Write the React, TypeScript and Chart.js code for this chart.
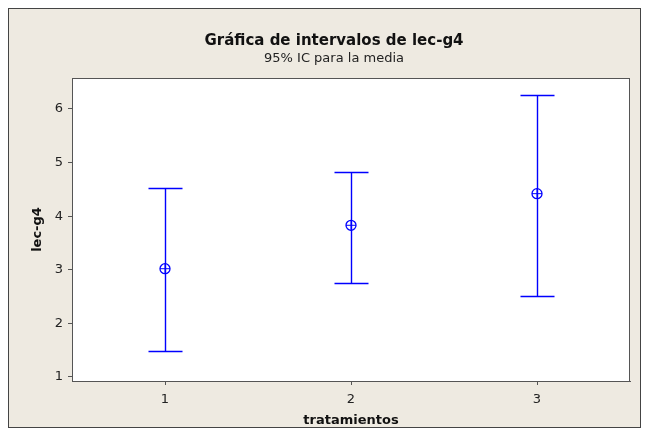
import React, { useEffect, useRef } from "react";
import { Chart, registerables } from "chart.js";
Chart.register(...registerables);

const categories = [1, 2, 3];
const xTickLabels = ["1", "2", "3"];
const means = [3.02, 3.83, 4.42];
const lowers = [1.49, 2.76, 2.52];
const uppers = [4.53, 4.83, 6.27];
const yTicks = [1, 2, 3, 4, 5, 6];
const titleText = "Gráfica de intervalos de lec-g4";
const subtitleText = "95% IC para la media";
const xTitle = "tratamientos";
const yTitle = "lec-g4";

const W = 633;
const H = 420;
const BG = "#EEEAE1";
const BLUE = "#0000FF";
const AXIS = "#555555";
const FONT = "'DejaVu Sans', Verdana, sans-serif";
const CAP_HALF = 17;

const framePlugin = {
  id: "frame",
  beforeDraw(chart: any) {
    const ctx = chart.ctx;
    const a = chart.chartArea;
    ctx.save();
    ctx.fillStyle = BG;
    ctx.fillRect(0, 0, chart.width, chart.height);
    ctx.strokeStyle = "#444444";
    ctx.lineWidth = 1;
    ctx.strokeRect(0.5, 0.5, chart.width - 1, chart.height - 1);
    ctx.fillStyle = "#FFFFFF";
    ctx.fillRect(a.left, a.top, a.right - a.left, a.bottom - a.top);
    ctx.restore();
  },
  beforeDatasetsDraw(chart: any) {
    const ctx = chart.ctx;
    const xs = chart.scales.x;
    const ys = chart.scales.y;
    ctx.save();
    ctx.strokeStyle = BLUE;
    ctx.lineWidth = 1.4;
    categories.forEach((c, i) => {
      const x = Math.round(xs.getPixelForValue(c)) + 0.5;
      const yt = Math.round(ys.getPixelForValue(uppers[i])) + 0.5;
      const yb = Math.round(ys.getPixelForValue(lowers[i])) + 0.5;
      ctx.beginPath();
      ctx.moveTo(x, yt);
      ctx.lineTo(x, yb);
      ctx.moveTo(x - CAP_HALF, yt);
      ctx.lineTo(x + CAP_HALF, yt);
      ctx.moveTo(x - CAP_HALF, yb);
      ctx.lineTo(x + CAP_HALF, yb);
      ctx.stroke();
    });
    ctx.restore();
  },
  afterDraw(chart: any) {
    const ctx = chart.ctx;
    const a = chart.chartArea;
    ctx.save();
    ctx.strokeStyle = AXIS;
    ctx.lineWidth = 1;
    ctx.strokeRect(a.left + 0.5, a.top + 0.5, a.right - a.left - 1, a.bottom - a.top);
    ctx.fillStyle = "#111111";
    ctx.textAlign = "center";
    ctx.textBaseline = "middle";
    ctx.font = `bold 15px ${FONT}`;
    ctx.fillText(titleText, 326, 33);
    ctx.fillStyle = "#222222";
    ctx.font = `13px ${FONT}`;
    ctx.fillText(subtitleText, 326, 51);
    ctx.restore();
  },
};

export default function App() {
  const ref = useRef<HTMLCanvasElement | null>(null);
  useEffect(() => {
    if (!ref.current) return;
    const meanPts = categories.map((c, i) => ({ x: c, y: means[i] }));
    const chart = new Chart(ref.current, {
      type: "scatter",
      data: {
        datasets: [
          {
            data: meanPts,
            pointStyle: "circle",
            pointRadius: 5,
            borderColor: BLUE,
            backgroundColor: "rgba(0,0,0,0)",
            borderWidth: 1.3,
          },
          {
            data: meanPts,
            pointStyle: "cross",
            pointRadius: 5,
            borderColor: BLUE,
            backgroundColor: BLUE,
            borderWidth: 1,
          },
        ],
      },
      options: {
        animation: false,
        responsive: false,
        devicePixelRatio: 1,
        layout: { padding: { top: 70, right: 11, left: 0, bottom: 0 } },
        plugins: {
          legend: { display: false },
          tooltip: { enabled: false },
          title: { display: false },
        },
        scales: {
          x: {
            type: "linear",
            min: 0.5,
            max: 3.5,
            afterBuildTicks: (s: any) => {
              s.ticks = categories.map((v) => ({ value: v }));
            },
            afterFit: (s: any) => {
              s.height = 47;
            },
            grid: { drawOnChartArea: false, drawTicks: true, tickLength: 4, color: AXIS },
            border: { display: true, color: AXIS },
            ticks: {
              font: { family: FONT, size: 13 },
              color: "#222222",
              padding: 7,
              callback: (_v: any, i: number) => xTickLabels[i],
            },
            title: {
              display: true,
              text: xTitle,
              font: { family: FONT, size: 13, weight: "bold" },
              color: "#111111",
              padding: { top: 0, bottom: 0 },
            },
          },
          y: {
            type: "linear",
            min: 0.925,
            max: 6.578,
            afterBuildTicks: (s: any) => {
              s.ticks = yTicks.map((v) => ({ value: v }));
            },
            afterFit: (s: any) => {
              s.width = 64;
            },
            grid: { drawOnChartArea: false, drawTicks: true, tickLength: 4, color: AXIS },
            border: { display: true, color: AXIS },
            ticks: {
              font: { family: FONT, size: 13 },
              color: "#222222",
              padding: 5,
              callback: (v: any) => String(v),
            },
            title: {
              display: true,
              text: yTitle,
              font: { family: FONT, size: 13, weight: "bold" },
              color: "#111111",
              padding: { top: 22, bottom: 0 },
            },
          },
        },
      } as any,
      plugins: [framePlugin],
    });
    return () => chart.destroy();
  }, []);
  return (
    <div style={{ width: W, height: H }}>
      <canvas ref={ref} width={W} height={H} style={{ display: "block" }} />
    </div>
  );
}
